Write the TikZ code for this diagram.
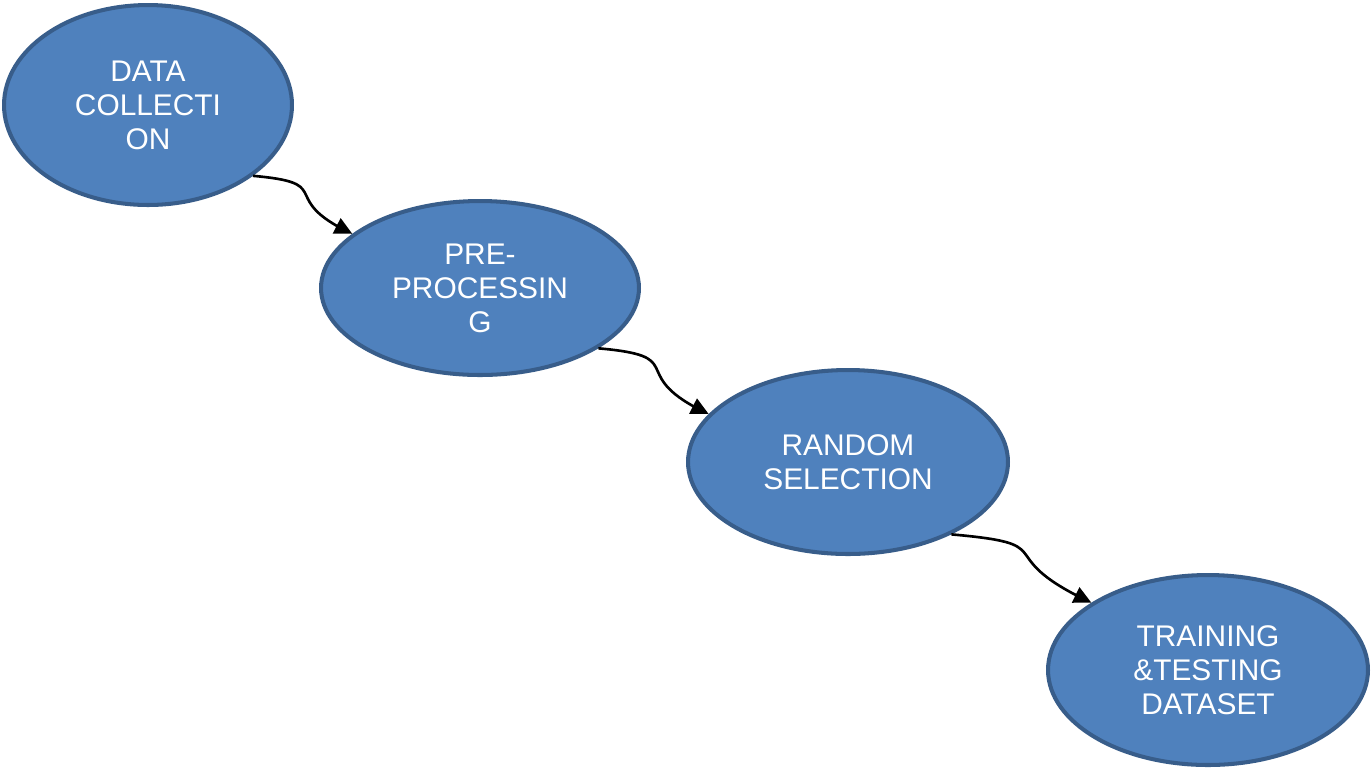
\documentclass[tikz,border=0pt]{standalone}
\usepackage{fontspec}
\setmainfont{Liberation Sans}
\usepackage{xcolor}
\usepackage{tikz}
\usetikzlibrary{shapes.geometric,arrows.meta,bending}
\definecolor{stagefill}{HTML}{4F81BD}
\definecolor{stageline}{HTML}{385D8A}
\tikzset{
  stage/.style={ellipse, draw=stageline, fill=stagefill, line width=2.3pt, inner sep=0pt,
    text=white, align=center, font=\fontsize{17pt}{19.4pt}\selectfont},
  flow/.style={line width=1.5pt, -{Triangle[length=10pt,width=9.5pt,flex]}, out=-5, in=155, looseness=1.9}
}
\begin{document}
\begin{tikzpicture}[x=0.02cm, y=-0.02cm]
%%%%% Frame %%%%%
\useasboundingbox (0,0) rectangle (1372,769);
%%%%% Stages %%%%%
\node[stage, minimum width=5.76cm, minimum height=4.0cm]  (collect) at (148,105) {DATA\\COLLECTI\\ON};
\node[stage, minimum width=6.36cm, minimum height=3.48cm] (prep)    at (480,288) {PRE-\\PROCESSIN\\G};
\node[stage, minimum width=6.4cm,  minimum height=3.68cm] (random)  at (848,462) {RANDOM\\SELECTION};
\node[stage, minimum width=6.4cm,  minimum height=3.8cm]  (train)   at (1208,670) {TRAINING\\\&TESTING\\DATASET};
%%%%% Arrows %%%%%
\draw[flow] (collect.-34) to (prep.157);
\draw[flow] (prep.-27) to (random.161);
\draw[flow] (random.-35) to (train.150);
\end{tikzpicture}
\end{document}
